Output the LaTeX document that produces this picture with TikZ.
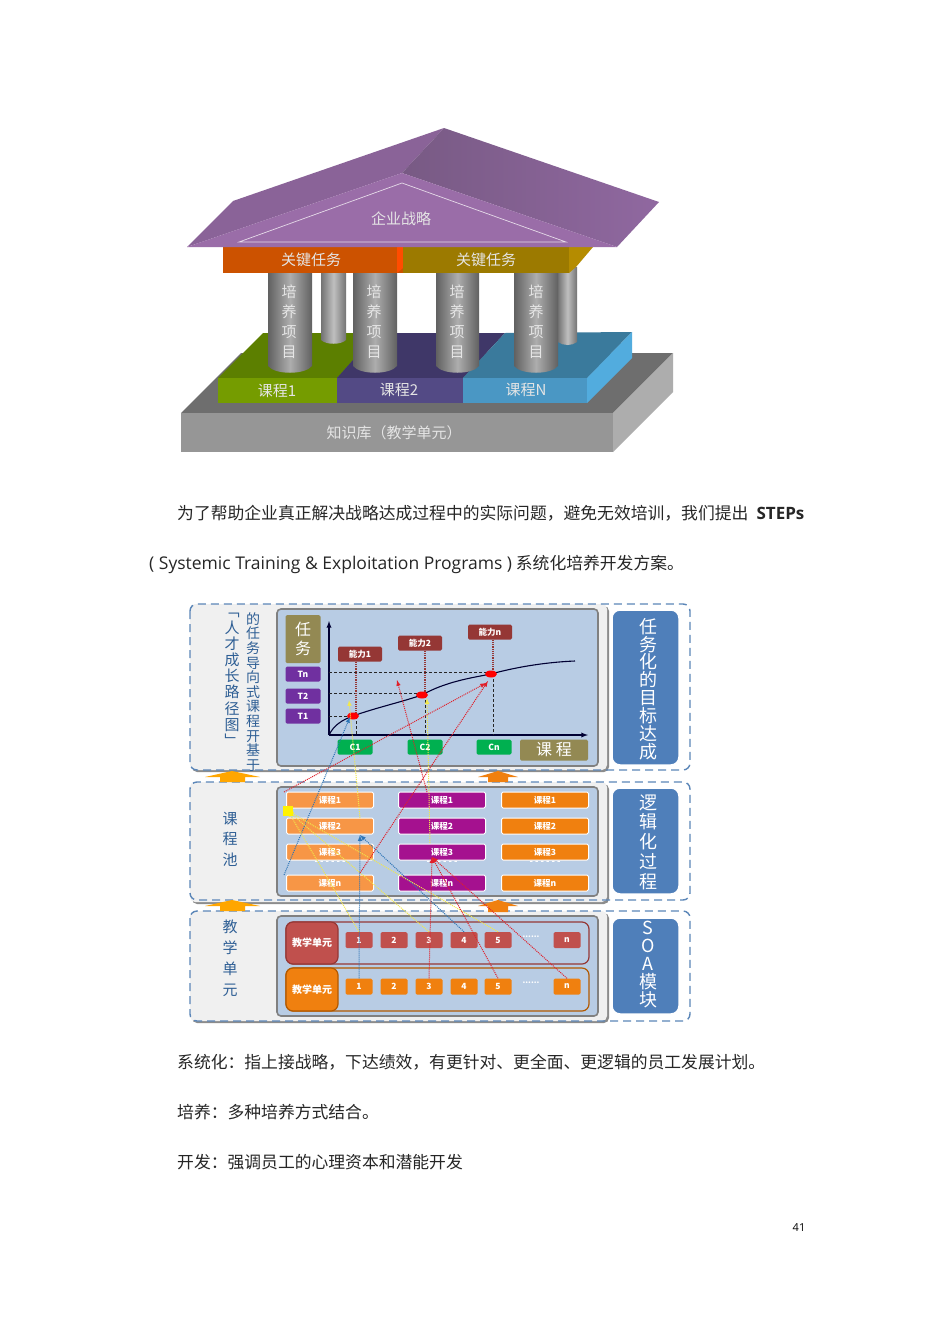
\documentclass[tikz,border=0pt]{standalone}
\usepackage{fontspec}
\setmainfont{Noto Sans CJK SC}
\newfontfamily\latinfont{Open Sans}
\usetikzlibrary{arrows.meta}

\definecolor{roofleft}{HTML}{8A6398}
\definecolor{roofdark}{HTML}{785A84}
\definecolor{roofright}{HTML}{9068A0}
\definecolor{rooffront}{HTML}{9A6DA8}
\definecolor{beamorange}{HTML}{CC5200}
\definecolor{beamolive}{HTML}{9C7A00}
\definecolor{beamside}{HTML}{B58C00}
\definecolor{basetop}{HTML}{6E6E6E}
\definecolor{basefront}{HTML}{969696}
\definecolor{baseside}{HTML}{ADADAD}
\definecolor{greenfront}{HTML}{759C00}
\definecolor{greentop}{HTML}{5C7F00}
\definecolor{violetfront}{HTML}{534A85}
\definecolor{violettop}{HTML}{3F3768}
\definecolor{bluefront}{HTML}{4A97C4}
\definecolor{bluetop}{HTML}{3A7A9C}
\definecolor{blueside}{HTML}{52ACDE}
\definecolor{panelblue}{HTML}{B8CCE4}
\definecolor{sideblue}{HTML}{4F7FBA}
\definecolor{dashblue}{HTML}{5B86B8}
\definecolor{labelblue}{HTML}{2F5F95}
\definecolor{darkred}{HTML}{953735}
\definecolor{unitred}{HTML}{C0504D}
\definecolor{unitorange}{HTML}{F0800F}
\definecolor{courselight}{HTML}{F79646}
\definecolor{coursepurple}{HTML}{A5118F}
\definecolor{khaki}{HTML}{938953}
\definecolor{taskpurple}{HTML}{7030A0}
\definecolor{coursegreen}{HTML}{00B050}
\definecolor{ablue}{HTML}{2E75B6}
\definecolor{ayellow}{HTML}{F2E84B}
\definecolor{ared}{HTML}{E0202A}

\newcommand{\fsz}[2]{\fontsize{#1}{#2}\selectfont}

\tikzset{
    bodytext/.style={anchor=west, inner sep=0pt, text=black!85, font=\fsz{16.8}{20}},
    housetext/.style={inner sep=0pt, text=white!90!black, font=\fsz{15}{20}},
    pillartext/.style={inner sep=0pt, align=center, text=white!90!black, font=\fsz{15}{20}},
    sidetext/.style={inner sep=0pt, align=center, text=white, font=\fsz{18}{#1}},
    poolstext/.style={inner sep=0pt, align=center, text=labelblue, font=\fsz{15}{#1}},
    pillarback/.style={left color=black!55, right color=black!55, middle color=black!25},
    pillarfront/.style={left color=black!62, right color=black!62, middle color=black!32},
    tag/.style={rounded corners=1.5pt, inner sep=0pt, text=white, font=\bfseries\fsz{8.5}{10}},
    abilitytag/.style={tag, fill=darkred, minimum width=44pt, minimum height=15pt},
    tasktag/.style={tag, fill=taskpurple, minimum width=35pt, minimum height=15pt},
    coursetag/.style={tag, fill=coursegreen, minimum width=35pt, minimum height=15pt},
    lessontag/.style={tag, draw=white, line width=1pt, fill=#1, minimum width=87pt, minimum height=16pt},
    unittag/.style={tag, fill=#1, minimum width=27pt, minimum height=16pt},
    panelshadow/.style={fill=black!45, rounded corners=5pt},
    panelback/.style={fill=black!6, rounded corners=5pt},
    paneldash/.style={draw=dashblue, line width=1.4pt, dash pattern=on 8pt off 5pt, rounded corners=7pt},
    panelinner/.style={fill=panelblue, draw=black!50, line width=1.6pt, rounded corners=4pt},
    sidebox/.style={fill=sideblue, draw=white, line width=1.5pt, rounded corners=8pt},
    linkred/.style={draw=ared, densely dotted, line width=1pt, -{latex}},
    linkblue/.style={draw=ablue, densely dotted, line width=1pt, -{latex}},
    linkyellow/.style={draw=ayellow, densely dotted, line width=1pt, -{latex}},
}

\begin{document}
\begin{tikzpicture}[x=1pt,y=-1pt]
    \useasboundingbox[fill=white] (0,0) rectangle (950,1344);

    % knowledge base
    \fill[basetop] (181,413) -- (241,353) -- (673,353) -- (613,413) -- cycle;
    \fill[baseside] (613,413) -- (673,353) -- (673,392) -- (613,452) -- cycle;
    \fill[basefront] (181,413) rectangle (613,452);

    % course blocks
    \fill[greentop] (218,378) -- (263,333) -- (353,333) -- (353,360) -- (337,378) -- cycle;
    \fill[violettop] (337,378) -- (353,360) -- (353,333) -- (505,333) -- (463,378) -- cycle;
    \fill[bluetop] (463,378) -- (505,333) -- (632,332) -- (587,378) -- cycle;
    \fill[blueside] (587,378) -- (632,332) -- (632,358) -- (587,403) -- cycle;
    \fill[greenfront] (218,378) rectangle (337,403);
    \fill[violetfront] (337,378) rectangle (463,403);
    \fill[bluefront] (463,378) rectangle (587,403);

    % back pillars
    \shade[pillarback] (321,273) -- (321,340) .. controls (326,345) and (341,345) .. (346,340) -- (346,273) -- cycle;
    \shade[pillarback] (558,267) -- (558,342) .. controls (563,346) and (572,346) .. (577,342) -- (577,267) -- cycle;

    % front pillars
    \shade[pillarfront] (268,273) -- (268,366) .. controls (275,375) and (305,375) .. (312,366) -- (312,273) -- cycle;
    \shade[pillarfront] (353,273) -- (353,366) .. controls (360,375) and (390,375) .. (397,366) -- (397,273) -- cycle;
    \shade[pillarfront] (436,273) -- (436,366) .. controls (443,375) and (472,375) .. (479,366) -- (479,273) -- cycle;
    \shade[pillarfront] (514,273) -- (514,366) .. controls (521,375) and (551,375) .. (558,366) -- (558,273) -- cycle;

    % beams
    \fill[beamorange] (223,247) rectangle (403,273);
    \fill[orange!60!red] (397,247) -- (403,247) -- (403,268) -- (397,273) -- cycle;
    \fill[beamolive] (403,247) rectangle (569,273);
    \fill[beamside] (569,247) -- (593,247) -- (576,267) -- (569,273) -- cycle;

    % roof
    \fill[roofleft] (187,247) -- (233,201) -- (444,128) -- (402,173) -- cycle;
    \shade[left color=roofdark, right color=roofright] (444,128) -- (659,202) -- (617,247) -- (402,173) -- cycle;
    \fill[rooffront] (187,247) -- (402,173) -- (617,247) -- cycle;
    \draw[white!75!rooffront, line width=0.7pt] (239,242) -- (402,183) -- (566,242) -- cycle;

    % house labels
    \node[housetext] (strategy) at (401,219) {企业战略};
    \node[housetext] (taskone) at (311,260) {关键任务};
    \node[housetext] (tasktwo) at (486,260) {关键任务};
    \node[pillartext] (pillarone) at (289,322) {培\\养\\项\\目};
    \node[pillartext] (pillartwo) at (374,322) {培\\养\\项\\目};
    \node[pillartext] (pillarthree) at (457,322) {培\\养\\项\\目};
    \node[pillartext] (pillarfour) at (536,322) {培\\养\\项\\目};
    \node[housetext] (blockone) at (277,391) {课程1};
    \node[housetext] (blocktwo) at (399,390) {课程2};
    \node[housetext] (blockn) at (526,390) {课程N};
    \node[housetext] (knowledge) at (394,433) {知识库（教学单元）};

    % body text
    \node[bodytext] (lineone) at (177,513) {为了帮助企业真正解决战略达成过程中的实际问题，避免无效培训，我们提出 {\latinfont\bfseries\fsz{17}{20} STEPs}};
    \node[bodytext] (linetwo) at (149,564) {{\latinfont\fsz{17.5}{20}( Systemic Training \& Exploitation Programs )} 系统化培养开发方案。};
    \node[bodytext] (linethree) at (177,1062) {系统化：指上接战略，下达绩效，有更针对、更全面、更逻辑的员工发展计划。};
    \node[bodytext] (linefour) at (177,1112) {培养：多种培养方式结合。};
    \node[bodytext] (linefive) at (177,1162) {开发：强调员工的心理资本和潜能开发};
    \node[inner sep=0pt, font=\latinfont\fsz{11}{12}] (pagenumber) at (799,1228) {41};

    % panel frames
    \fill[panelshadow] (192,606) rectangle (609,772);
    \fill[panelback] (190,604) rectangle (607,770);
    \draw[paneldash] (190,604) rectangle (690,770);
    \fill[panelshadow] (192,784) rectangle (609,904);
    \fill[panelback] (190,782) rectangle (607,902);
    \draw[paneldash] (190,782) rectangle (690,900);
    \fill[panelshadow] (192,913) rectangle (609,1023);
    \fill[panelback] (190,911) rectangle (607,1021);
    \draw[paneldash] (190,911) rectangle (690,1021);
    \draw[panelinner] (277,609) rectangle (598,766);
    \draw[panelinner] (277,787) rectangle (598,896);
    \draw[panelinner] (277,916) rectangle (598,1016);
    \draw[sidebox] (612,610) rectangle (679,765);
    \draw[sidebox] (612,788) rectangle (679,894);
    \draw[sidebox] (612,918) rectangle (679,1014);

    % up arrows
    \fill[orange!70!yellow] (232,771) -- (260,777) -- (245,777) -- (245,782) -- (220,782) -- (220,777) -- (205,777) -- cycle;
    \fill[unitorange] (498,771) -- (518,777) -- (508,777) -- (508,782) -- (488,782) -- (488,777) -- (478,777) -- cycle;
    \fill[orange!70!yellow] (232,900) -- (260,906) -- (245,906) -- (245,911) -- (220,911) -- (220,906) -- (205,906) -- cycle;
    \fill[unitorange] (498,900) -- (518,906) -- (508,906) -- (508,912) -- (488,912) -- (488,906) -- (478,906) -- cycle;

    % side labels
    \node[sidetext=17.9] (goal) at (648,689) {任\\务\\化\\的\\目\\标\\达\\成};
    \node[sidetext=19.8] (logic) at (648,842) {逻\\辑\\化\\过\\程};
    \node[sidetext=18] (soa) at (648,965) {S\\O\\A\\模\\块};
    \node[poolstext=14.6, font=\fsz{14}{14.6}] (basedon) at (253,692) {的\\任\\务\\导\\向\\式\\课\\程\\开\\基\\于};
    \node[poolstext=16.2] (growthmap) at (232,680) {﹁\\人\\才\\成\\长\\路\\径\\图\\﹂};
    \node[poolstext=20.5] (pool) at (230,839) {课\\程\\池};
    \node[poolstext=21] (unitlabel) at (230,958) {教\\学\\单\\元};

    % chart axes
    \coordinate (origin) at (329,735);
    \coordinate (ytop) at (329,621);
    \coordinate (xend) at (588,735);
    \draw[-{latex}, line width=1.3pt, black!80!blue] (origin) -- (ytop);
    \draw[-{latex}, line width=1.3pt, black!80!blue] (origin) -- (xend);

    % chart curve and dots
    \coordinate (dotone) at (353,716);
    \coordinate (dottwo) at (422,695);
    \coordinate (dotn) at (491,674);
    \draw[line width=1.1pt, black!80!blue] (origin) .. controls (334,725) and (342,720) .. (dotone) .. controls (375,708) and (398,703) .. (dottwo) .. controls (445,682) and (470,678) .. (dotn) .. controls (520,666) and (550,662) .. (575,661);

    % chart tags
    \node[abilitytag] (abilityone) at (360,654) {能力1};
    \node[abilitytag] (abilitytwo) at (420,643) {能力2};
    \node[abilitytag] (abilityn) at (490,632) {能力n};
    \node[tag, fill=khaki, minimum width=35pt, minimum height=48pt, align=center, font=\fsz{16}{19}] (taskaxis) at (303,639) {任\\务};
    \node[tasktag] (tn) at (303,674) {Tn};
    \node[tasktag] (ttwo) at (303,696) {T2};
    \node[tasktag] (tone) at (303,716) {T1};
    \node[coursetag] (cone) at (355,747) {C1};
    \node[coursetag] (ctwo) at (425,747) {C2};
    \node[coursetag] (cn) at (494,747) {Cn};
    \node[tag, fill=khaki, minimum width=68pt, minimum height=21pt, font=\fsz{16}{19}] (courseaxis) at (554,750) {课 程};

    % chart guide lines
    \draw[densely dashed, black!85] (329,716) -- (356,716);
    \draw[densely dashed, black!85] (329,693) -- (425,693);
    \draw[densely dashed, black!85] (329,672) -- (493,672);
    \draw[densely dashed, black!85] (356,716) -- (356,735);
    \draw[densely dashed, black!85] (425,695) -- (425,735);
    \draw[densely dashed, black!85] (493,674) -- (493,735);
    \draw[densely dotted, darkred, line width=1.2pt] (abilityone.south) ++(-4,0) -- (356,716);
    \draw[densely dotted, darkred, line width=1.2pt] (abilitytwo.south) ++(5,0) -- (425,693);
    \draw[densely dotted, darkred, line width=1.2pt] (abilityn.south) ++(3,0) -- (493,672);
    \fill[red] (dotone) circle[x radius=6pt, y radius=3.5pt];
    \fill[red] (dottwo) circle[x radius=6pt, y radius=3.5pt];
    \fill[red] (dotn) circle[x radius=6pt, y radius=3.5pt];

    % course pool
    \node[lessontag=courselight] (poolaone) at (330,800) {课程1};
    \node[lessontag=courselight] (poolatwo) at (330,826) {课程2};
    \node[lessontag=courselight] (poolathree) at (330,852) {课程3};
    \node[lessontag=courselight] (pooln) at (330,883) {课程n};
    \node[lessontag=coursepurple] (poolbone) at (442,800) {课程1};
    \node[lessontag=coursepurple] (poolbtwo) at (442,826) {课程2};
    \node[lessontag=coursepurple] (poolbthree) at (442,852) {课程3};
    \node[lessontag=coursepurple] (poolbn) at (442,883) {课程n};
    \node[lessontag=unitorange] (poolcone) at (545,800) {课程1};
    \node[lessontag=unitorange] (poolctwo) at (545,826) {课程2};
    \node[lessontag=unitorange] (poolcthree) at (545,852) {课程3};
    \node[lessontag=unitorange] (poolcn) at (545,883) {课程n};
    \node[inner sep=0pt, text=white, font=\bfseries\fsz{9}{9}] (gapa) at (330,863) {- - -  - - -};
    \node[inner sep=0pt, text=white, font=\bfseries\fsz{9}{9}] (gapb) at (442,863) {- - -  - - -};
    \node[inner sep=0pt, text=white, font=\bfseries\fsz{9}{9}] (gapc) at (545,863) {- - -  - - -};

    % teaching unit rows
    \draw[darkred, line width=1.2pt, rounded corners=7pt] (286,922) rectangle (589,964);
    \draw[orange!70!black, line width=1.2pt, rounded corners=7pt] (286,968) rectangle (589,1011);
    \node[tag, fill=unitred, draw=darkred, line width=1.2pt, rounded corners=7pt, minimum width=52pt, minimum height=42pt, font=\bfseries\fsz{10}{12}] (rowone) at (312,943) {教学单元};
    \node[tag, fill=unitorange, draw=orange!70!black, line width=1.2pt, rounded corners=7pt, minimum width=52pt, minimum height=43pt, font=\bfseries\fsz{10}{12}] (rowtwo) at (312,989.5) {教学单元};

    \node[unittag=unitred] (aone) at (359,940) {1};
    \node[unittag=unitred] (atwo) at (394,940) {2};
    \node[unittag=unitred] (athree) at (429,940) {3};
    \node[unittag=unitred] (afour) at (464,940) {4};
    \node[unittag=unitred] (afive) at (498,940) {5};
    \node[unittag=unitred] (an) at (567,940) {n};
    \node[unittag=unitorange] (bone) at (359,986.5) {1};
    \node[unittag=unitorange] (btwo) at (394,986.5) {2};
    \node[unittag=unitorange] (bthree) at (429,986.5) {3};
    \node[unittag=unitorange] (bfour) at (464,986.5) {4};
    \node[unittag=unitorange] (bfive) at (498,986.5) {5};
    \node[unittag=unitorange] (bn) at (567,986.5) {n};
    \node[inner sep=0pt, text=white, font=\bfseries\fsz{8}{8}] (dotsa) at (531,937) {......};
    \node[inner sep=0pt, text=white, font=\bfseries\fsz{8}{8}] (dotsb) at (531,983) {......};

    % free link ends
    \coordinate (tipone) at (350,717);
    \coordinate (tiptwo) at (349,700);
    \coordinate (tipthree) at (427,698);
    \coordinate (tipfour) at (397,680);
    \coordinate (tipfive) at (488,681);
    \coordinate (tipsix) at (486,683);
    \coordinate (tipseven) at (360,835);
    \coordinate (tipeight) at (432,857);
    \coordinate (tipnine) at (288,811);
    \coordinate (startone) at (284,875);
    \coordinate (starttwo) at (284,792);
    \coordinate (startthree) at (360,873);
    \coordinate (startfour) at (360,818);
    \coordinate (startfive) at (430,843);
    \coordinate (startsix) at (427,792);

    % links
    \draw[linkblue] (startone) -- (tipone);
    \draw[linkblue] (bone.north) -- (tipseven);
    \draw[linkblue] (afour.north) -- (tipseven);
    \draw[linkyellow] (startfour) -- (tiptwo);
    \draw[linkyellow] (startfive) -- (tipthree);
    \draw[linkyellow] (aone.north) -- (tipnine);
    \draw[linkyellow] (athree.north) -- (tipnine);
    \draw[linkyellow] (afive.north) -- (tipnine);
    \fill[yellow] (283,806) rectangle (293,816);
    \draw[linkred] (starttwo) -- (tipsix);
    \draw[linkred] (startthree) -- (tipfive);
    \draw[linkred] (startsix) -- (tipfour);
    \draw[linkred] (bthree.north) -- (tipeight);
    \draw[linkred] (bfive.north) -- (tipeight);
    \draw[linkred] (bn.north) -- (tipeight);

\end{tikzpicture}
\end{document}
